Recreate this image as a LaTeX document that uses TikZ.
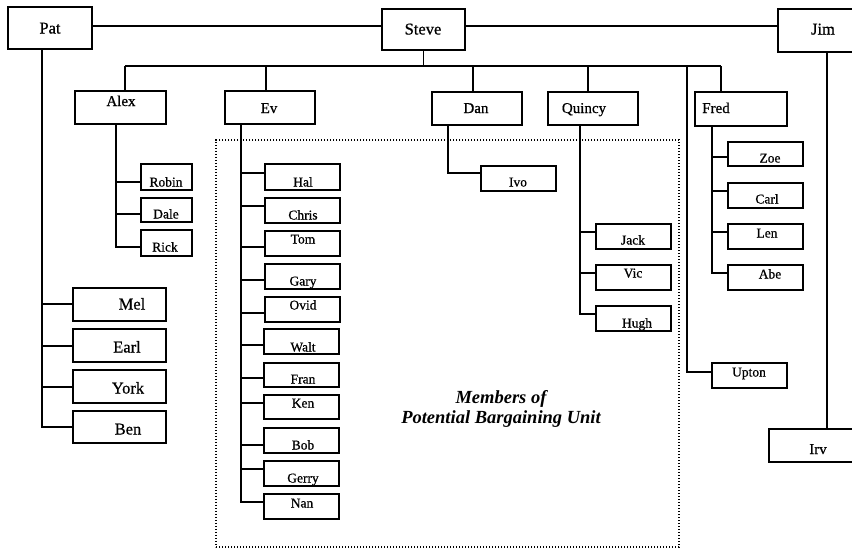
\documentclass[tikz,border=0pt]{standalone}
\usepackage{fontspec}
\setmainfont{Liberation Serif}
\newfontfamily\namefont[FakeBold=0.7]{Liberation Serif}
\tikzset{
  box/.style={draw, rectangle, inner sep=0pt, line width=1.2pt},
  big/.style={font=\namefont\fontsize{16.5}{18}\selectfont, text height=11pt, text depth=0pt},
  mid/.style={font=\namefont\fontsize{15}{17}\selectfont, text height=10pt, text depth=0pt},
  sml/.style={font=\namefont\fontsize{13.5}{15}\selectfont, text height=9pt, text depth=0pt},
  lbl/.style={font=\fontsize{18.5}{20}\selectfont\bfseries\itshape, inner sep=0pt},
  wire/.style={line width=1.1pt},
  unitbox/.style={draw, rectangle, inner sep=0pt, line width=1.1pt, dash pattern=on 1.1pt off 1.9pt},
}
\newcommand\obox[9]{%
  \node[box, minimum width={(#4-#2)*1pt}, minimum height={(#5-#3)*1pt}] (#1) at ({(#2+#4)/2},{(#3+#5)/2}) {};
  \node[#8, inner sep=0pt] (#1t) at (#6,#7) {#9};}
\begin{document}
\begin{tikzpicture}[x=1pt,y=-1pt]
\useasboundingbox (0,0) rectangle (852,552);
% dotted region
\node[unitbox, minimum width=463pt, minimum height=407pt] (unit) at (447.5,343.5) {};
\node[lbl] (lab1) at (501,399) {Members of};
\node[lbl] (lab2) at (501,419) {Potential Bargaining Unit};
% top level
\obox{pat}{8}{7}{92}{49}{50}{28}{big}{Pat}
\obox{steve}{382}{9}{465}{50}{423}{29}{big}{Steve}
\obox{jim}{778}{9}{860}{52}{823}{29}{big}{Jim}
% second level
\obox{alex}{75}{91}{166}{124}{121}{101}{mid}{Alex}
\obox{ev}{225}{91}{315}{124}{269}{108}{mid}{Ev}
\obox{dan}{432}{92}{522}{125}{476}{108}{mid}{Dan}
\obox{quincy}{548}{92}{638}{125}{584}{108}{mid}{Quincy}
\obox{fred}{695}{92}{787}{126}{716}{108}{mid}{Fred}
% Alex group
\obox{robin}{141}{164}{192}{190}{166}{182}{sml}{Robin}
\obox{dale}{141}{198}{192}{222}{166}{214}{sml}{Dale}
\obox{rick}{141}{230}{192}{256}{165}{247}{sml}{Rick}
% Pat group
\obox{mel}{73}{288}{166}{321}{132}{304}{big}{Mel}
\obox{earl}{73}{329}{166}{362}{127}{347}{big}{Earl}
\obox{york}{73}{370}{166}{403}{128}{388}{big}{York}
\obox{ben}{73}{411}{166}{443}{128}{429}{big}{Ben}
% Ev group
\obox{hal}{265}{164}{340}{190}{303}{182}{sml}{Hal}
\obox{chris}{265}{198}{340}{223}{303}{215}{sml}{Chris}
\obox{tom}{265}{231}{340}{256}{303}{239}{sml}{Tom}
\obox{gary}{265}{264}{340}{289}{303}{281}{sml}{Gary}
\obox{ovid}{265}{297}{340}{322}{303}{305}{sml}{Ovid}
\obox{walt}{264}{329}{339}{354}{303}{347}{sml}{Walt}
\obox{fran}{264}{363}{339}{387}{303}{379}{sml}{Fran}
\obox{ken}{264}{395}{339}{419}{303}{403}{sml}{Ken}
\obox{bob}{264}{428}{339}{453}{303}{445}{sml}{Bob}
\obox{gerry}{264}{461}{339}{486}{303}{478}{sml}{Gerry}
\obox{nan}{264}{494}{339}{519}{302}{503}{sml}{Nan}
% Dan group
\obox{ivo}{481}{166}{556}{191}{518}{182}{sml}{Ivo}
% Quincy group
\obox{jack}{596}{224}{671}{249}{633}{240}{sml}{Jack}
\obox{vic}{596}{265}{671}{290}{633}{273}{sml}{Vic}
\obox{hugh}{596}{306}{671}{331}{637}{323}{sml}{Hugh}
% Fred group
\obox{zoe}{728}{142}{803}{166}{770}{158}{sml}{Zoe}
\obox{carl}{728}{183}{803}{208}{767}{199}{sml}{Carl}
\obox{len}{728}{224}{803}{249}{767}{233}{sml}{Len}
\obox{abe}{728}{265}{803}{290}{770}{274}{sml}{Abe}
% Upton, Irv
\obox{upton}{712}{363}{787}{388}{749}{372}{sml}{Upton}
\obox{irv}{769}{429}{860}{462}{818}{449}{mid}{Irv}
% coordinates
\coordinate (toprow) at (0,26);
\coordinate (alexd) at (125,66);
\coordinate (evd) at (266,66);
\coordinate (dand) at (473,66);
\coordinate (quind) at (588,66);
\coordinate (uptd) at (687,66);
\coordinate (fredd) at (721,66);
\coordinate (patsp) at (42,49);
\coordinate (alexsp) at (116,124);
\coordinate (evsp) at (241,124);
\coordinate (dansp) at (448,125);
\coordinate (quinsp) at (580,125);
\coordinate (fredsp) at (712,126);
\coordinate (jimsp) at (827,52);
\begin{scope}[wire]
% top row
\draw (pat.east |- toprow) -- (steve.west |- toprow);
\draw (steve.east |- toprow) -- (jim.west |- toprow);
% bus
\draw (steve.south) -- (steve.south |- alexd);
\draw (alexd) -- (fredd);
\draw (alexd) -- (alexd |- alex.north);
\draw (evd) -- (evd |- ev.north);
\draw (dand) -- (dand |- dan.north);
\draw (quind) -- (quind |- quincy.north);
\draw (fredd) -- (fredd |- fred.north);
\draw (uptd) |- (upton.west |- 0,372);
\draw (jimsp) -- (jimsp |- irv.north);
% Pat children
\draw (mel.west |- 0,304) -| (patsp);
\draw (earl.west |- 0,346) -| (patsp);
\draw (york.west |- 0,387) -| (patsp);
\draw (ben.west |- 0,427) -| (patsp);
% Alex children
\draw (robin.west |- 0,182) -| (alexsp);
\draw (dale.west |- 0,214) -| (alexsp);
\draw (rick.west |- 0,247) -| (alexsp);
% Ev children
\draw (hal.west |- 0,173) -| (evsp);
\draw (chris.west |- 0,206) -| (evsp);
\draw (tom.west |- 0,247) -| (evsp);
\draw (gary.west |- 0,280) -| (evsp);
\draw (ovid.west |- 0,313) -| (evsp);
\draw (walt.west |- 0,345) -| (evsp);
\draw (fran.west |- 0,378) -| (evsp);
\draw (ken.west |- 0,403) -| (evsp);
\draw (bob.west |- 0,445) -| (evsp);
\draw (gerry.west |- 0,469) -| (evsp);
\draw (nan.west |- 0,502) -| (evsp);
% Dan child
\draw (ivo.west |- 0,173) -| (dansp);
% Quincy children
\draw (jack.west |- 0,232) -| (quinsp);
\draw (vic.west |- 0,273) -| (quinsp);
\draw (hugh.west |- 0,314) -| (quinsp);
% Fred children
\draw (zoe.west |- 0,157) -| (fredsp);
\draw (carl.west |- 0,191) -| (fredsp);
\draw (len.west |- 0,232) -| (fredsp);
\draw (abe.west |- 0,273) -| (fredsp);
\end{scope}
\end{tikzpicture}
\end{document}
